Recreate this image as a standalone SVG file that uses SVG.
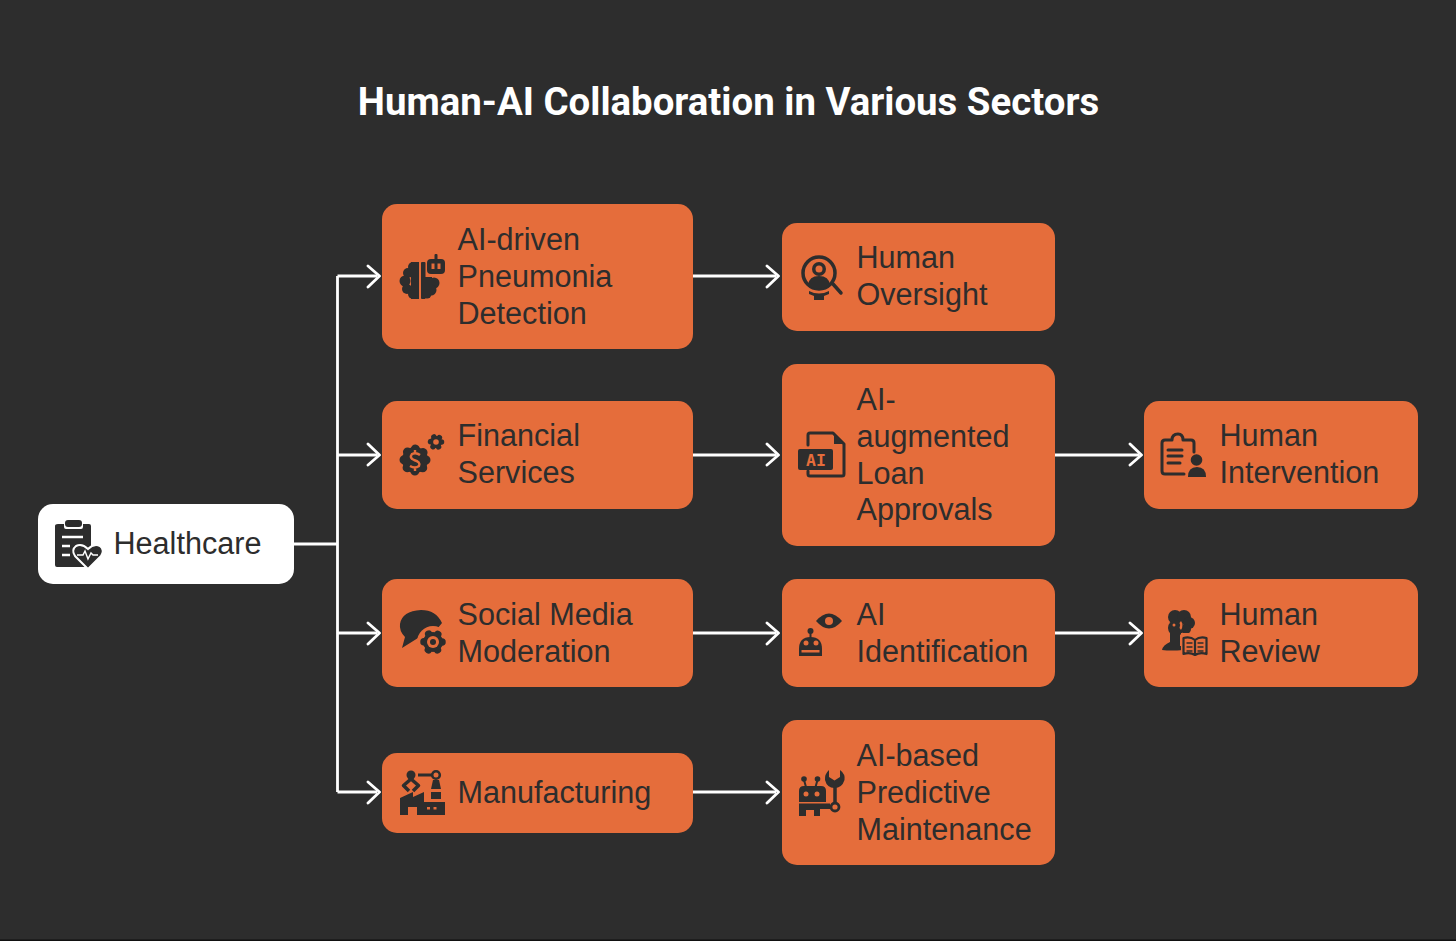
<svg xmlns="http://www.w3.org/2000/svg" width="1456" height="941" viewBox="0 0 1456 941">
<style>
.b{fill:#e56d3b}
.t{font-family:"Liberation Sans",Arial,sans-serif;font-size:30.6px;fill:#2d2d2d}
.i{fill:#2d2d2d}
.o{fill:#e56d3b}
.l{fill:none;stroke:#2d2d2d;stroke-width:3;stroke-linecap:round;stroke-linejoin:round}
.c{fill:none;stroke:#fff;stroke-width:2.8}
.h{fill:none;stroke:#fff;stroke-width:2.8;stroke-linecap:round;stroke-linejoin:round}
.g{stroke:#2d2d2d;stroke-linecap:round}
</style>
<rect width="1456" height="941" fill="#2d2d2d"/>
<rect y="939.500" width="1456" height="1.500" fill="#111"/>
<text x="728.500" y="114.500" text-anchor="middle" font-family="Roboto,'Liberation Sans',sans-serif" font-weight="700" font-size="38.400px" fill="#fff">Human-AI Collaboration in Various Sectors</text>
<g id="connectors">
<path class="c" d="M294 544H337.500M337.500 276V792M337.500 276H377M337.500 455H377M337.500 633H377M337.500 792H377M693 276H776M693 455H776M693 633H776M693 792H776M1055 455H1139M1055 633H1139"/>
<path class="h" d="M368 266L379.500 276L368 287M368 444L379.500 455L368 465M368 623L379.500 633L368 644M368 782L379.500 792L368 803M767 266L778.500 276L767 287M767 444L778.500 455L767 465M767 623L778.500 633L767 644M767 782L778.500 792L767 803M1130 444L1141.500 455L1130 465M1130 623L1141.500 633L1130 644"/>
</g>
<g id="healthcare">
<rect x="38" y="504" width="256" height="80" rx="15" fill="#fff"/>
<path class="i" d="M58 524H64V527Q64 529 66 529H81Q83 529 83 527V524H89Q91 524 91 526V546L80 554L85 567H57Q55 567 55 565V526Q55 524 58 524Z"/>
<rect class="i" x="65" y="520" width="17" height="7" rx="3"/>
<path d="M62 537H83M62 546H70M62 555H70" stroke="#fff" stroke-width="2.600" fill="none"/>
<path class="i" stroke="#fff" stroke-width="2" d="M88 569L75 556Q71 550 76 546Q82 543 88 549Q94 543 100 546Q105 550 101 556Z"/>
<path d="M77 555H83L85 551L88 559L91 553L93 555H98" stroke="#fff" stroke-width="1.500" fill="none"/>
<text class="t" x="113.500" y="553.500">Healthcare</text>
</g>
<g id="pneumonia">
<rect class="b" x="382" y="204" width="311" height="145" rx="15"/>
<circle class="i" cx="413" cy="267" r="5"/><circle class="i" cx="408" cy="273" r="5"/><circle class="i" cx="405" cy="281" r="5.500"/><circle class="i" cx="407" cy="289" r="5"/><circle class="i" cx="413" cy="294" r="5"/>
<rect class="i" x="411" y="262" width="8" height="37"/>
<rect class="i" x="421" y="262" width="4.500" height="37" rx="1"/>
<circle class="i" cx="434" cy="283" r="5.500"/><circle class="i" cx="431" cy="290" r="5.500"/><circle class="i" cx="427" cy="294" r="4.500"/>
<rect class="i" x="424" y="277" width="8" height="18"/>
<rect class="i" x="427" y="259" width="18" height="15" rx="4"/>
<rect class="i" x="434.500" y="254" width="3" height="7" rx="1"/>
<path class="o" d="M431.500 263.500h3v5.500h-3zM437.500 263.500h3v5.500h-3z"/>
<text class="t" x="457.500" y="249.500">AI-driven</text>
<text class="t" x="457.500" y="286.500">Pneumonia</text>
<text class="t" x="457.500" y="323.500">Detection</text>
</g>
<g id="financial">
<rect class="b" x="382" y="401" width="311" height="108" rx="15"/>
<circle class="i g" cx="415" cy="460" r="11" stroke-width="9" stroke-dasharray="0.010 8.630"/>
<circle class="i" cx="415" cy="460" r="13"/>
<path d="M420 455Q416 452 412 454Q409 458 414 460Q421 462 419 466Q415 469 410 466M415 450V453M415 468V471" fill="none" stroke="#e56d3b" stroke-width="2.400"/>
<circle class="i g" cx="436" cy="442" r="5.500" stroke-width="5.500" stroke-dasharray="0.010 5.750"/>
<circle class="i" cx="436" cy="442" r="6"/>
<circle class="o" cx="436" cy="442" r="2.800"/>
<text class="t" x="457.500" y="445.500">Financial</text>
<text class="t" x="457.500" y="482.500">Services</text>
</g>
<g id="social">
<rect class="b" x="382" y="579" width="311" height="108" rx="15"/>
<path class="i" d="M421 610Q436 610 442 623L428 640L418 638L402 648L405 637Q399 631 400 624Q402 611 421 610Z"/>
<circle class="o" cx="433" cy="642" r="16"/>
<circle class="i g" cx="433" cy="642" r="9" stroke-width="7.500" stroke-dasharray="0.010 9.410"/>
<circle class="i" cx="433" cy="642" r="10"/>
<circle class="o" cx="433" cy="642" r="6"/>
<circle class="i" cx="433" cy="642" r="3"/>
<text class="t" x="457.500" y="624.500">Social Media</text>
<text class="t" x="457.500" y="661.500">Moderation</text>
</g>
<g id="manufacturing">
<rect class="b" x="382" y="753" width="311" height="80" rx="15"/>
<circle class="i" cx="411" cy="775" r="4.500"/>
<path class="l" style="stroke-width:3.500;stroke-linecap:butt" d="M411 779L403.500 785.500L409 791M411 779L418.500 785.500L413 791"/>
<rect class="i" x="418" y="773.500" width="14" height="3"/>
<circle cx="436" cy="775" r="3.800" fill="none" stroke="#2d2d2d" stroke-width="2.600"/>
<path class="i" d="M433 780H439L441 789H431Z"/>
<rect class="i" x="431" y="792" width="10" height="7"/>
<path class="i" d="M400 802V798L413 792V797L424 792V802H445V815H417V807H408V815H400Z"/>
<path class="o" d="M427 807h3v2.500h-3zM433.500 807h3v2.500h-3z"/>
<text class="t" x="457.500" y="802.500">Manufacturing</text>
</g>
<g id="oversight">
<rect class="b" x="782" y="223" width="273" height="108" rx="15"/>
<circle cx="819" cy="273" r="16" fill="none" stroke="#2d2d2d" stroke-width="3.500"/>
<circle class="i" cx="819" cy="269" r="7"/>
<circle class="o" cx="819" cy="269" r="3.500"/>
<path class="i" d="M808 285Q809 276 819 276Q829 276 830 285Q825 289 819 289Q813 289 808 285Z"/>
<path class="l" style="stroke-width:3.500" d="M833 284L841 293"/>
<path class="i" d="M809 291Q819 296 829 291V294L824 296V300H814V296L809 294Z"/>
<text class="t" x="856.500" y="267.500">Human</text>
<text class="t" x="856.500" y="304.500">Oversight</text>
</g>
<g id="loan">
<rect class="b" x="782" y="364" width="273" height="182" rx="15"/>
<path class="l" d="M808 445V435Q808 433 810 433H833L844 444V474Q844 476 842 476H810Q808 476 808 474V471"/>
<path class="i" d="M834 433V444H844Z"/>
<rect class="i" x="798" y="449" width="35" height="21" rx="2"/>
<text x="816" y="465.500" text-anchor="middle" font-family="'DejaVu Sans Mono',monospace" font-weight="700" font-size="16.500px" fill="#e56d3b">AI</text>
<text class="t" x="856.500" y="409.500">AI-</text>
<text class="t" x="856.500" y="446.500">augmented</text>
<text class="t" x="856.500" y="483.500">Loan</text>
<text class="t" x="856.500" y="519.500">Approvals</text>
</g>
<g id="identification">
<rect class="b" x="782" y="579" width="273" height="108" rx="15"/>
<path class="i" d="M816 621Q829 606 842 621Q829 636 816 621Z"/>
<circle class="o" cx="829" cy="621" r="4"/>
<circle class="i" cx="810.500" cy="631" r="3"/>
<rect class="i" x="809.500" y="632" width="2" height="6"/>
<path class="i" d="M799 656V649Q799 637 810.500 637Q822 637 822 649V656Z"/>
<circle class="o" cx="806" cy="643" r="2.500"/>
<circle class="o" cx="816" cy="643" r="2.500"/>
<rect class="o" x="801.500" y="650" width="18" height="2.500"/>
<text class="t" x="856.500" y="624.500">AI</text>
<text class="t" x="856.500" y="661.500">Identification</text>
</g>
<g id="maintenance">
<rect class="b" x="782" y="720" width="273" height="145" rx="15"/>
<circle class="i" cx="804" cy="779" r="2.800"/>
<circle class="i" cx="817.500" cy="779" r="2.800"/>
<path class="l" style="stroke-width:2" d="M804 780L806 787M817.500 780L815.500 787"/>
<path class="i" d="M804 786H821Q826 786 826 791V802H799V791Q799 786 804 786Z"/>
<circle class="o" cx="806" cy="794" r="2.500"/>
<circle class="o" cx="817" cy="794" r="2.500"/>
<path class="i" d="M799 803.500H830V809H820V816H814V810H806V816H799Z"/>
<path class="l" style="stroke-width:3.500;stroke-linecap:butt" d="M835 785V803"/>
<circle cx="835" cy="807" r="4" fill="none" stroke="#2d2d2d" stroke-width="2.800"/>
<path class="i" d="M829 770V777L834.500 780.500L840 777V770Q845.500 774 844.500 780Q842 788 834.500 788Q827 788 825 780Q824.500 774 829 770Z"/>
<text class="t" x="856.500" y="765.500">AI-based</text>
<text class="t" x="856.500" y="802.500">Predictive</text>
<text class="t" x="856.500" y="839.500">Maintenance</text>
</g>
<g id="intervention">
<rect class="b" x="1144" y="401" width="274" height="108" rx="15"/>
<path class="l" d="M1184 474H1165Q1162 474 1162 471V443Q1162 440 1165 440H1172Q1172 434 1178 434Q1183 434 1183 440H1191Q1194 440 1194 443V452"/>
<path class="l" d="M1168 450H1182M1168 456H1182M1168 463H1180"/>
<circle class="i" cx="1196.500" cy="460" r="5.800"/>
<path class="i" d="M1188 477Q1188 467 1197 467Q1206 467 1206 477Z"/>
<text class="t" x="1219.500" y="445.500">Human</text>
<text class="t" x="1219.500" y="482.500">Intervention</text>
</g>
<g id="review">
<rect class="b" x="1144" y="579" width="274" height="108" rx="15"/>
<circle class="i" cx="1175" cy="617" r="7"/><circle class="i" cx="1184" cy="617" r="7"/><circle class="i" cx="1189" cy="623" r="6"/><circle class="i" cx="1186" cy="629" r="5"/><circle class="i" cx="1176" cy="628" r="8"/>
<path class="i" d="M1170 632H1180V646H1183V650Q1171 651 1162 650Q1163 645 1170 642Z"/>
<circle class="o" cx="1174" cy="625" r="1.500"/>
<path class="o" d="M1181 621Q1184 625 1181 630L1179.500 628Q1181 625 1179.500 623Z"/>
<path class="o" d="M1181 633H1209V657H1181Z"/>
<path class="l" style="stroke-width:2.200" d="M1183.500 638V654Q1190 652 1195 655Q1200 652 1206.500 654V638Q1200 636 1195 640Q1190 636 1183.500 638Z M1195 640V655"/>
<path class="l" style="stroke-width:1.400" d="M1187 643H1192M1187 647H1192M1187 651H1192M1198 643H1203M1198 647H1203M1198 651H1203"/>
<text class="t" x="1219.500" y="624.500">Human</text>
<text class="t" x="1219.500" y="661.500">Review</text>
</g>
</svg>
